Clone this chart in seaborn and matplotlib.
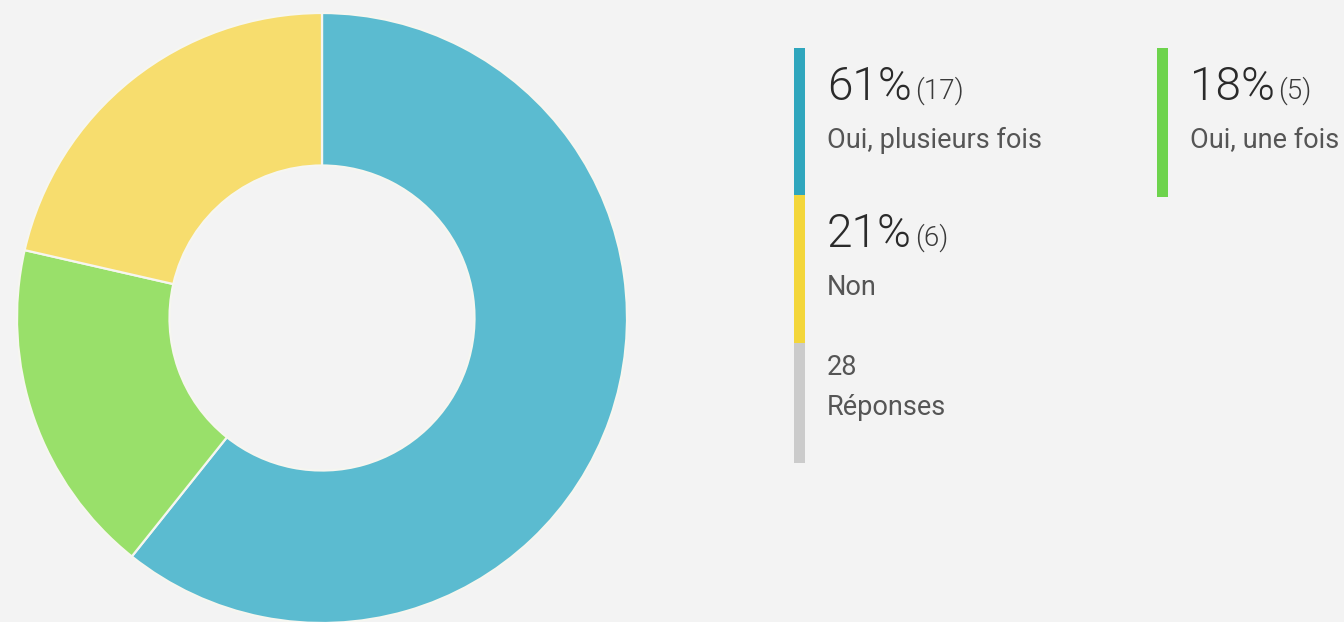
import matplotlib
matplotlib.use("Agg")
import matplotlib.pyplot as plt
import seaborn as sns

# survey answers, in pie order (clockwise from 12 o'clock)
answers = ["Oui, plusieurs fois", "Oui, une fois", "Non"]
counts = [17, 5, 6]
slice_colors = ["#5bbbd0", "#99e06a", "#f7dd6e"]
bar_colors = ["#2fa6bd", "#6dd34c", "#f3d63a"]
total_label = "Réponses"
total_color = "#cbcbcb"

W, H = 1344, 622
bg = "#f3f3f3"

sns.set_theme(style="white", rc={"figure.facecolor": bg, "axes.facecolor": bg})
plt.rcParams["font.family"] = ["Roboto", "DejaVu Sans"]

fig = plt.figure(figsize=(W / 100, H / 100), dpi=100)

# donut, center ~(322, 318) px, radius ~305 px
cx, cy, r = 322, 318, 305
ax = fig.add_axes([(cx - r) / W, (H - cy - r) / H, 2 * r / W, 2 * r / H])
ax.pie(counts, colors=slice_colors, startangle=90, counterclock=False, radius=1,
       wedgeprops=dict(width=0.5, edgecolor="#f6f6f0", linewidth=1.6))
ax.set_xlim(-1, 1)
ax.set_ylim(-1, 1)
ax.set_aspect("equal")
ax.axis("off")

# legend overlay in pixel coordinates
lg = fig.add_axes([0, 0, 1, 1])
lg.set_xlim(0, W)
lg.set_ylim(H, 0)
lg.axis("off")
lg.patch.set_alpha(0)

total = sum(counts)
# slot layout: (bar x, bar top, bar bottom, text x) per legend item
slots = {
    "Oui, plusieurs fois": (799, 48, 195, 827),
    "Oui, une fois": (1162, 48, 197, 1190),
    "Non": (799, 195, 343, 827),
}
for name, n, col in zip(answers, counts, bar_colors):
    bx, top, bot, tx = slots[name]
    lg.bar(bx, bot - top, bottom=top, width=11, color=col, linewidth=0)
    pct = round(n / total * 100)
    lg.text(tx, top + 52, f"{pct}%", fontsize=33, fontweight=300,
            color="#2a2a2a", va="baseline", ha="left")
    lg.text(tx + 88, top + 51, f"({n})", fontsize=20, fontweight=300,
            color="#3a3a3a", va="baseline", ha="left")
    lg.text(tx, top + 100, name, fontsize=19.5,
            color="#555555", va="baseline", ha="left")

# total responses
lg.bar(799, 463 - 343, bottom=343, width=11, color=total_color, linewidth=0)
lg.text(827, 375, str(total), fontsize=19.5,
        color="#555555", va="baseline", ha="left")
lg.text(827, 415, total_label, fontsize=19.5,
        color="#555555", va="baseline", ha="left")

fig.savefig("out.png", dpi=100, facecolor=bg)
